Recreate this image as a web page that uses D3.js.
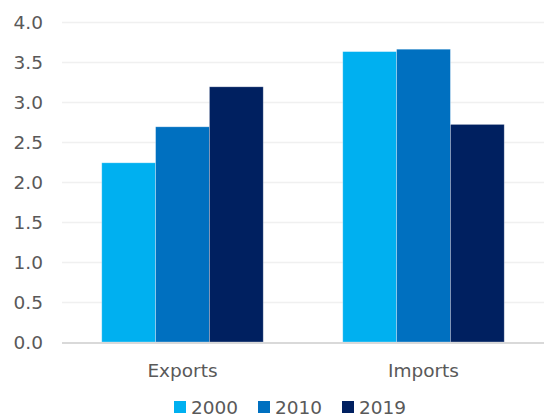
<!DOCTYPE html>
<meta charset="utf-8">
<script src="https://d3js.org/d3.v7.min.js"></script>
<style>
  body{margin:0;background:#fff;}
  text{font-family:"DejaVu Sans",Verdana,sans-serif;fill:#595959;}
</style>
<div id="chart"></div>
<script>
    // data
    const categories=["Exports","Imports"];
    const years=["2000","2010","2019"];
    const values2000=[2.24,3.63];
    const values2010=[2.69,3.66];
    const values2019=[3.19,2.72];
    const yTicks=[0,0.5,1,1.5,2,2.5,3,3.5,4];
    const colors=["#00B0F0","#0070C0","#002060"];

    const W=544,H=416;
    const margin={top:22,right:0,bottom:74,left:62},
        width=W-margin.left-margin.right,
        height=H-margin.top-margin.bottom;

    const svg=d3.select("#chart")
        .append("svg")
            .attr("width",W)
            .attr("height",H)
        .append("g")
            .attr("transform",`translate(${margin.left},${margin.top})`);

    const series=[values2000,values2010,values2019];
    const rows=categories.map((c,i)=>({cat:c,vals:years.map((y,j)=>({year:y,v:series[j][i],k:j}))}));

    const x=d3.scaleBand()
        .domain(categories)
        .range([0,width])
        .paddingInner(0.33)
        .paddingOuter(0.165);
    const x1=d3.scaleBand()
        .domain(years)
        .range([0,x.bandwidth()]);
    const y=d3.scaleLinear()
        .domain([0,4])
        .range([height,0]);

    // gridlines
    svg.append("g")
        .selectAll("line")
        .data(yTicks.filter(d=>d>0))
        .join("line")
            .attr("x1",0)
            .attr("x2",width)
            .attr("y1",d=>Math.round(y(d))+0.5)
            .attr("y2",d=>Math.round(y(d))+0.5)
            .attr("stroke","#F0F0F0")
            .attr("stroke-width",1.5);

    // y axis labels
    const yAxis=svg.append("g")
        .call(d3.axisLeft(y).tickValues(yTicks).tickFormat(d3.format(".1f")).tickSize(0).tickPadding(19));
    yAxis.select(".domain").remove();
    yAxis.selectAll("text")
        .style("font-size","18.5px")
        .attr("fill","#595959")
        .attr("dy","0.36em");

    // bars
    svg.append("g")
        .selectAll("g")
        .data(rows)
        .join("g")
            .attr("transform",d=>`translate(${x(d.cat)},0)`)
        .selectAll("rect")
        .data(d=>d.vals)
        .join("rect")
            .attr("x",d=>x1(d.year))
            .attr("y",d=>y(d.v))
            .attr("width",x1.bandwidth())
            .attr("height",d=>height-y(d.v))
            .attr("fill",d=>colors[d.k])
            .attr("stroke","#ffffff")
            .attr("stroke-opacity",0.4)
            .attr("stroke-width",0.75);

    // baseline
    svg.append("line")
        .attr("x1",0)
        .attr("x2",width)
        .attr("y1",height+1)
        .attr("y2",height+1)
        .attr("stroke","#D9D9D9")
        .attr("stroke-width",2);

    // category labels
    svg.append("g")
        .selectAll("text")
        .data(categories)
        .join("text")
            .attr("x",d=>x(d)+x.bandwidth()/2)
            .attr("y",height+35)
            .attr("text-anchor","middle")
            .style("font-size","18.5px")
            .text(d=>d);

    // legend
    const legend=svg.append("g")
        .attr("transform",`translate(0,${height+58})`);
    const legX=[112,196,280];
    const items=legend.selectAll("g")
        .data(years)
        .join("g")
            .attr("transform",(d,i)=>`translate(${legX[i]},0)`);
    items.append("rect")
        .attr("x",0)
        .attr("y",1)
        .attr("width",12)
        .attr("height",12)
        .attr("fill",(d,i)=>colors[i]);
    items.append("text")
        .attr("x",17)
        .attr("y",14)
        .style("font-size","18.5px")
        .text(d=>d);
</script>
